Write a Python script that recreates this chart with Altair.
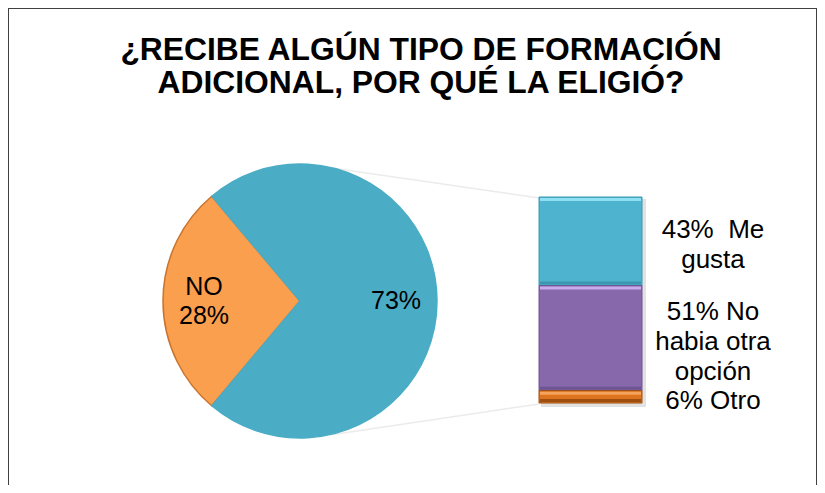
import math
import altair as alt
import pandas as pd

# ---- data ----
title_lines = ["¿RECIBE ALGÚN TIPO DE FORMACIÓN", "ADICIONAL, POR QUÉ LA ELIGIÓ?"]

pie_cats = ["NO", "SI"]
pie_vals = [28, 73]
pie_labels = ["NO\n28%", "73%"]

bar_cats = ["Me gusta", "No habia otra opción", "Otro"]
bar_vals = [43, 51, 6]
bar_labels = ["43%\u00a0 Me\ngusta", "51% No\nhabia otra\nopción", "6% Otro"]

# ---- styling ----
pie_colors = ["#F99F4E", "#4AACC5"]
pie_strokes = ["#C8742F", "#4AACC5"]
bar_colors = ["#4EB3CF", "#8769AB", "#DE741E"]
bar_hi = ["#8EE0F2", "#C9AAEA", "#F7A35C"]
bar_lo = ["#3B97AF", "#6E5393", "#9C4F10"]
FONT = "Liberation Sans"

W, H = 809, 477
CX, CY, R = 292, 293, 137
BX0, BX1, BY_TOP, BY_BOT = 531, 634, 189, 395
LH = 30           # bar label line height (px)
PLH = 29          # pie label line height (px)
PX2UNIT = 100 / (BY_BOT - BY_TOP)

total = sum(pie_vals)
t0 = 1.5 * math.pi - math.pi * pie_vals[0] / total

pie_df = pd.DataFrame({"cat": pie_cats, "val": pie_vals, "lab": pie_labels,
                       "ord": list(range(len(pie_cats)))})
bar_df = pd.DataFrame({"cat": bar_cats, "val": bar_vals, "lab": bar_labels,
                       "ord": list(range(len(bar_cats)))[::-1]})
one = pd.DataFrame({"k": [0]})

theta_scale = alt.Scale(domain=[0, total], range=[t0, t0 + 2 * math.pi])

pie = alt.Chart(pie_df).mark_arc(outerRadius=R, strokeWidth=1.5).encode(
    theta=alt.Theta("val:Q", stack=True, scale=theta_scale),
    order=alt.Order("ord:Q"),
    x=alt.value(CX), y=alt.value(CY),
    color=alt.Color("cat:N", scale=alt.Scale(domain=pie_cats, range=pie_colors), legend=None),
    stroke=alt.Stroke("cat:N", scale=alt.Scale(domain=pie_cats, range=pie_strokes), legend=None),
)

pie_lab_base = alt.Chart(pie_df).transform_window(
    cum="sum(val)", sort=[alt.SortField("ord")], frame=[None, 0]
).transform_calculate(
    tmid="datum.cum - datum.val / 2",
    nlines="split(datum.lab, '\\n').length",
)


def pie_text(n):
    return pie_lab_base.transform_filter(f"datum.nlines == {n}").mark_text(
        radius=96, fontSize=25, font=FONT, lineHeight=PLH, lineBreak="\n",
        color="black", dy=-(n - 1) * PLH / 2,
    ).encode(
        theta=alt.Theta("tmid:Q", stack=None, scale=theta_scale),
        x=alt.value(CX), y=alt.value(CY), text="lab:N",
    )


yscale = alt.Scale(domain=[0, 100], range=[BY_BOT, BY_TOP])
bar_base = alt.Chart(bar_df).transform_stack(
    stack="val", groupby=[], as_=["v0", "v1"], sort=[alt.SortField("ord")]
).transform_calculate(
    nlines="split(datum.lab, '\\n').length",
).transform_calculate(
    mid=f"(datum.v0 + datum.v1) / 2 + (datum.nlines - 1) * {LH / 2} * {PX2UNIT}"
)

cscale = lambda rng: alt.Scale(domain=bar_cats, range=rng)

shadow = alt.Chart(one).mark_rect(color="#BFBFBF", opacity=0.45, xOffset=2, x2Offset=4,
                                  yOffset=2, y2Offset=4).encode(
    x=alt.value(BX0), x2=alt.value(BX1), y=alt.value(BY_TOP), y2=alt.value(BY_BOT))

bars = bar_base.mark_bar(strokeWidth=1).encode(
    x=alt.value(BX0), x2=alt.value(BX1),
    y=alt.Y("v0:Q", scale=yscale, axis=None), y2="v1:Q",
    color=alt.Color("cat:N", scale=cscale(bar_colors), legend=None),
    stroke=alt.Stroke("cat:N", scale=cscale(bar_lo), legend=None),
)
bar_top = bar_base.mark_bar(y2Offset=4, xOffset=1, x2Offset=-1, yOffset=1).encode(
    x=alt.value(BX0), x2=alt.value(BX1),
    y=alt.Y("v1:Q", scale=yscale, axis=None), y2="v1:Q",
    color=alt.Color("cat:N", scale=cscale(bar_hi), legend=None),
)
bar_bot = bar_base.mark_bar(yOffset=-4, xOffset=1, x2Offset=-1, y2Offset=-1).encode(
    x=alt.value(BX0), x2=alt.value(BX1),
    y=alt.Y("v0:Q", scale=yscale, axis=None), y2="v0:Q",
    color=alt.Color("cat:N", scale=cscale(bar_lo), legend=None),
)
bar_text = bar_base.mark_text(fontSize=26, font=FONT, lineBreak="\n", lineHeight=LH,
                              color="black", align="center", baseline="middle", dy=4).encode(
    x=alt.value(705), y=alt.Y("mid:Q", scale=yscale, axis=None), text="lab:N",
)

conn_top = alt.Chart(one).mark_rule(color="#EBEBEB", strokeWidth=1.5).encode(
    x=alt.value(310), y=alt.value(158), x2=alt.value(BX0), y2=alt.value(BY_TOP + 1))
conn_bot = alt.Chart(one).mark_rule(color="#EBEBEB", strokeWidth=1.5).encode(
    x=alt.value(322), y=alt.value(427), x2=alt.value(BX0), y2=alt.value(BY_BOT + 1))

title = alt.Chart(one).mark_text(fontSize=31.8, fontWeight="bold", font=FONT, lineHeight=33,
                                 align="center", baseline="alphabetic", color="black").encode(
    x=alt.value(413), y=alt.value(52), text=alt.value(title_lines))

frame_l = alt.Chart(one).mark_rule(color="#404040", strokeWidth=1).encode(
    x=alt.value(0.5), y=alt.value(0), y2=alt.value(H))
frame_t = alt.Chart(one).mark_rule(color="#404040", strokeWidth=1).encode(
    x=alt.value(0), x2=alt.value(W), y=alt.value(0.5))
frame_r = alt.Chart(one).mark_rule(color="#404040", strokeWidth=1).encode(
    x=alt.value(W - 0.5), y=alt.value(0), y2=alt.value(H))

chart = alt.layer(
    conn_top, conn_bot, pie, pie_text(1), pie_text(2), shadow, bars, bar_top, bar_bot,
    bar_text, title, frame_l, frame_t, frame_r
).resolve_scale(color="independent", stroke="independent").properties(
    width=W, height=H, padding=0, autosize=alt.AutoSizeParams(type="none"),
    background="white",
).configure_view(stroke=None)

chart.save("out.html", embed_options={"renderer": "svg", "actions": False})
